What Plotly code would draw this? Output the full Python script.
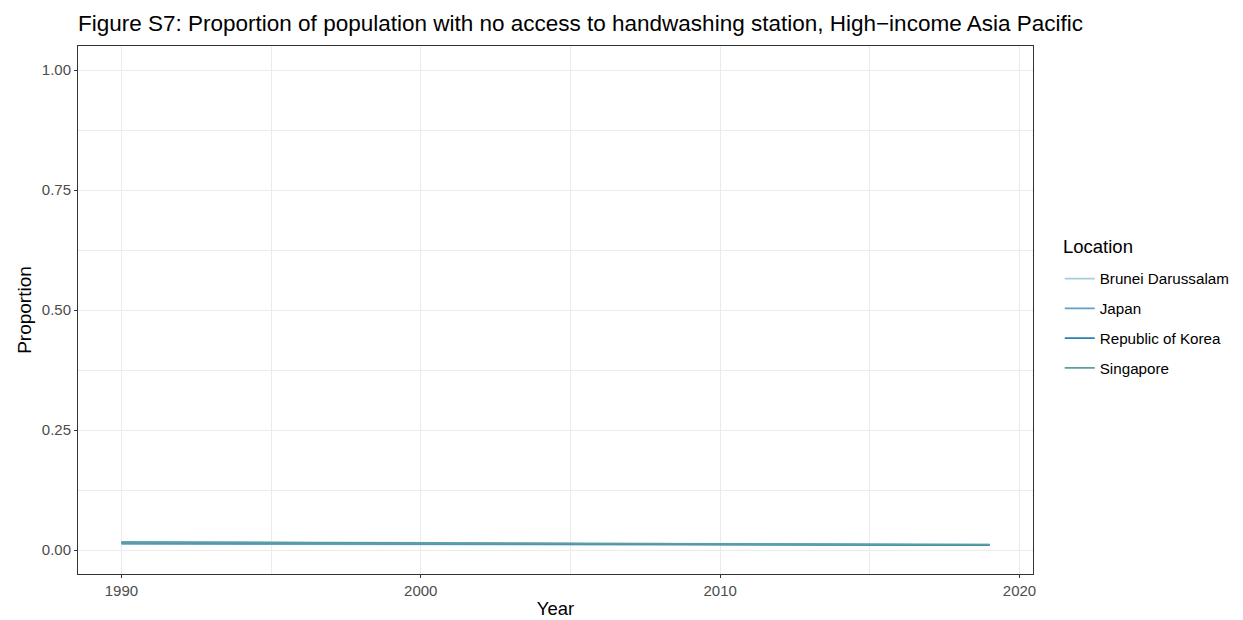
import plotly.graph_objects as go

years = list(range(1990, 2020))

brunei = [0.0170, 0.0168, 0.0167, 0.0166, 0.0164, 0.0163, 0.0161, 0.0160, 0.0158, 0.0157,
          0.0155, 0.0153, 0.0151, 0.0149, 0.0147, 0.0145, 0.0143, 0.0141, 0.0139, 0.0137,
          0.0135, 0.0133, 0.0131, 0.0129, 0.0126, 0.0123, 0.0120, 0.0117, 0.0114, 0.0112]
japan = [0.0130, 0.0129, 0.0128, 0.0128, 0.0127, 0.0126, 0.0125, 0.0125, 0.0124, 0.0123,
         0.0122, 0.0121, 0.0120, 0.0120, 0.0119, 0.0118, 0.0117, 0.0116, 0.0115, 0.0114,
         0.0113, 0.0112, 0.0111, 0.0110, 0.0107, 0.0104, 0.0103, 0.0102, 0.0101, 0.0100]
korea = [0.0160, 0.0158, 0.0156, 0.0155, 0.0153, 0.0151, 0.0149, 0.0147, 0.0145, 0.0143,
         0.0141, 0.0139, 0.0137, 0.0135, 0.0133, 0.0131, 0.0129, 0.0127, 0.0125, 0.0123,
         0.0121, 0.0119, 0.0117, 0.0115, 0.0110, 0.0106, 0.0105, 0.0104, 0.0103, 0.0102]
singapore = [0.0155, 0.0154, 0.0153, 0.0152, 0.0150, 0.0149, 0.0148, 0.0147, 0.0146, 0.0145,
             0.0144, 0.0142, 0.0141, 0.0140, 0.0139, 0.0138, 0.0136, 0.0135, 0.0134, 0.0133,
             0.0131, 0.0130, 0.0129, 0.0127, 0.0125, 0.0123, 0.0120, 0.0117, 0.0114, 0.0111]

series = [
    ("Brunei Darussalam", brunei, "#A6CDDD"),
    ("Japan", japan, "#5FA2C6"),
    ("Republic of Korea", korea, "#2A7FB0"),
    ("Singapore", singapore, "#5E9E9E"),
]

fig = go.Figure()
for i, (name, vals, col) in enumerate(series):
    fig.add_trace(go.Scatter(x=years, y=vals, mode="lines", name=name,
                             legendgroup=f"g{i}",
                             line=dict(color=col, width=1.8)))

W, H = 1235, 612
grid = "#EBEBEB"
tickfont = dict(size=15, color="#4D4D4D")
fig.update_layout(
    width=W, height=H,
    paper_bgcolor="white", plot_bgcolor="white",
    margin=dict(l=70, r=210, t=38, b=46, autoexpand=False),
    font=dict(family="Liberation Sans, Arial, sans-serif", color="#000000"),
    title=dict(text="Figure S7: Proportion of population with no access to handwashing station, High\u2212income Asia Pacific",
               x=0, xref="paper", xanchor="left", y=1 - 15.5 / H, yref="container", yanchor="middle",
               font=dict(size=22.5, color="#000000"), automargin=False),
    xaxis=dict(range=[1988.55, 2020.45], tickvals=[1990, 2000, 2010, 2020],
               showgrid=True, gridcolor=grid, gridwidth=1.2,
               minor=dict(tickvals=[1995, 2005, 2015], showgrid=True, gridcolor=grid, gridwidth=0.6),
               showline=True, linecolor="#333333", linewidth=1, mirror=True,
               ticks="outside", ticklen=3, tickcolor="#333333",
               tickfont=tickfont, zeroline=False, automargin=False,
               title=dict(text="Year", font=dict(size=18.5), standoff=4)),
    yaxis=dict(range=[-0.05, 1.05], tickvals=[0, 0.25, 0.5, 0.75, 1.0],
               ticktext=["0.00", "0.25", "0.50", "0.75", "1.00"],
               showgrid=True, gridcolor=grid, gridwidth=1.2,
               minor=dict(tickvals=[0.125, 0.375, 0.625, 0.875], showgrid=True, gridcolor=grid, gridwidth=0.6),
               showline=True, linecolor="#333333", linewidth=1, mirror=True,
               ticks="outside", ticklen=3, tickcolor="#333333",
               tickfont=tickfont, zeroline=False, automargin=False,
               title=dict(text="Proportion", font=dict(size=19), standoff=5)),
    legend=dict(x=1.028, y=0.5906, xanchor="left", yanchor="top",
                font=dict(size=15.2), tracegroupgap=7, itemwidth=30,
                bgcolor="rgba(0,0,0,0)"),
    annotations=[dict(text="Location", xref="paper", yref="paper", x=1.0293, y=0.621,
                      xanchor="left", yanchor="middle", showarrow=False,
                      font=dict(size=18.5, color="#000000"))],
    showlegend=True,
)

fig.write_html("out.html")
